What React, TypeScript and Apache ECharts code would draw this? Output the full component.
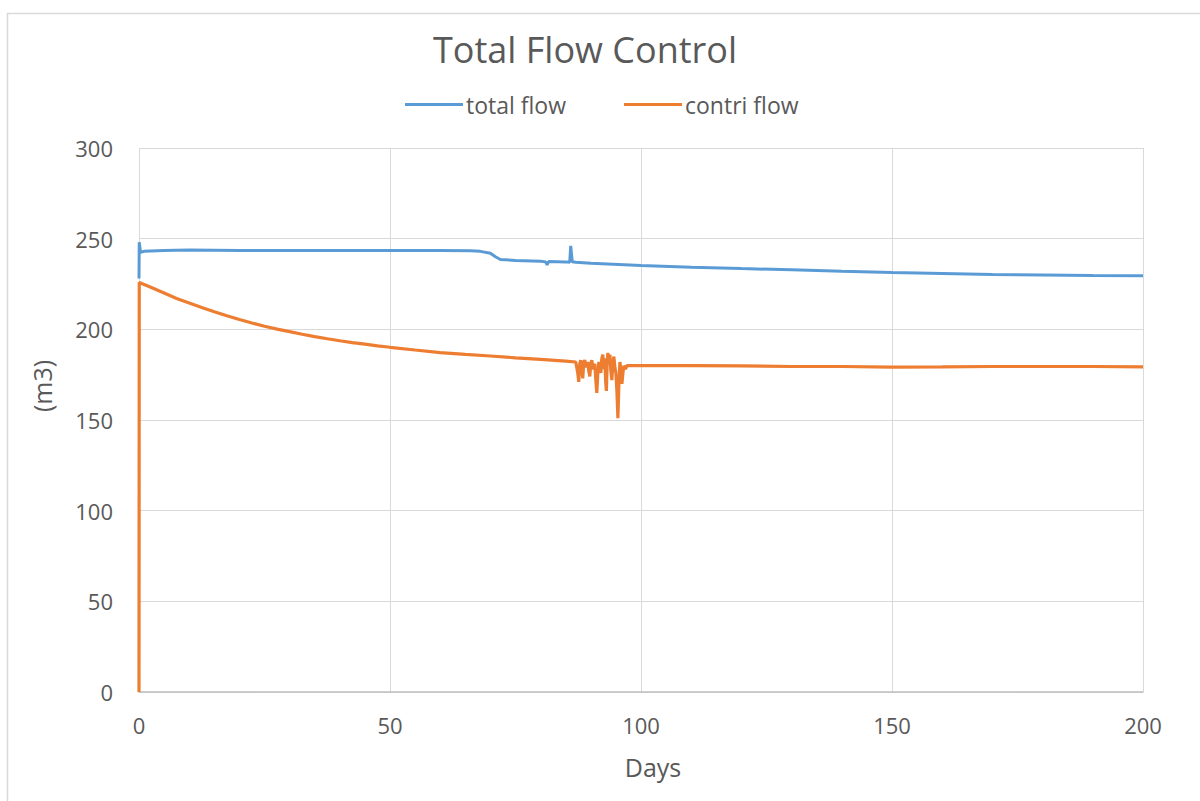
import React, { useEffect, useRef } from "react";
import * as echarts from "echarts";

// [day, m3]
const totalFlow: [number, number][] = [
  [0, 228], [0.05, 248], [0.3, 242.5], [1, 243], [5, 243.5], [10, 243.8], [20, 243.5],
  [40, 243.5], [60, 243.5], [66, 243.4], [68, 243], [70, 242], [71, 240], [72, 238.5],
  [75, 238], [80, 237.5], [81, 237.2], [81.3, 235.5], [81.6, 237.4], [85, 237.2],
  [85.8, 237], [86, 246], [86.3, 237.3], [87, 237], [90, 236.4], [100, 235.2],
  [110, 234.3], [120, 233.5], [130, 232.8], [140, 232], [150, 231.3], [160, 230.8],
  [170, 230.3], [180, 230], [190, 229.7], [200, 229.5],
];

const contriFlow: [number, number][] = [
  [0, 0], [0.05, 225.8], [2, 223.6], [5, 220], [7.5, 217], [10, 214.5], [12.5, 212],
  [15, 209.7], [17.5, 207.5], [20, 205.4], [22.5, 203.5], [25, 201.7], [27.5, 200.1],
  [30, 198.7], [32.5, 197.3], [35, 196], [37.5, 194.8], [40, 193.7], [42.5, 192.7],
  [45, 191.8], [47.5, 190.9], [50, 190.1], [55, 188.6], [60, 187.2], [65, 186.2],
  [70, 185.3], [75, 184.3], [80, 183.4], [85, 182.5], [87, 182],
  [87.4, 176], [87.6, 171], [87.8, 181], [88, 183], [88.2, 178], [88.4, 173],
  [88.6, 182], [88.8, 183], [89.1, 179], [89.4, 182], [89.6, 177], [89.8, 174],
  [90, 181], [90.2, 183], [90.5, 178], [90.8, 181], [91, 172], [91.2, 165],
  [91.4, 176], [91.6, 182], [91.8, 179], [92, 176], [92.2, 184], [92.4, 186],
  [92.6, 178], [92.8, 184], [92.95, 172], [93.1, 166], [93.25, 180], [93.4, 187],
  [93.6, 181], [93.8, 186], [94, 177], [94.2, 172], [94.4, 182], [94.6, 185],
  [94.8, 179], [95, 176], [95.2, 166], [95.4, 151], [95.6, 170], [95.8, 182],
  [96, 177], [96.2, 170], [96.4, 176], [96.6, 180], [96.9, 178], [97.2, 180],
  [100, 180], [110, 180], [120, 179.8], [130, 179.5], [140, 179.5],
  [150, 179.2], [160, 179.3], [170, 179.5], [180, 179.5], [190, 179.5], [200, 179.3],
];

const seriesNames = ["total flow", "contri flow"];
const chartTitle = "Total Flow Control";
const xAxisTitle = "Days";
const yAxisTitle = "(m3)";

const FONT = "'Open Sans', 'Noto Sans', sans-serif";
const GREY_TEXT = "#595959";
const BLUE = "#5B9BD5";
const ORANGE = "#ED7D31";

export default function App() {
  const ref = useRef<HTMLDivElement>(null);

  useEffect(() => {
    document.body.style.margin = "0";
    if (!ref.current) return;
    const chart = echarts.init(ref.current, undefined, { renderer: "svg" });
    chart.setOption({
      animation: false,
      backgroundColor: "#ffffff",
      textStyle: { fontFamily: FONT },
      title: {
        text: chartTitle,
        left: 428,
        top: 26,
        textStyle: { fontFamily: FONT, fontSize: 36, fontWeight: "normal", color: GREY_TEXT },
      },
      legend: {
        top: 88,
        left: 400,
        icon: "rect",
        itemWidth: 58,
        itemHeight: 3,
        itemGap: 58,
        textStyle: { fontFamily: FONT, fontSize: 23, color: GREY_TEXT, padding: [0, 0, 0, -2] },
        data: seriesNames,
      },
      grid: { left: 139, right: 57, top: 148, bottom: 109 },
      xAxis: {
        type: "value",
        min: 0,
        max: 200,
        interval: 50,
        name: xAxisTitle,
        nameLocation: "middle",
        nameGap: 62,
        nameTextStyle: { fontFamily: FONT, fontSize: 25, color: GREY_TEXT, padding: [0, 0, 0, 24] },
        axisLine: { show: true, lineStyle: { color: "#bfbfbf", width: 1.5 } },
        axisTick: { show: false },
        axisLabel: { fontFamily: FONT, fontSize: 22, color: GREY_TEXT, margin: 22 },
        splitLine: { show: true, lineStyle: { color: "#d9d9d9", width: 1 } },
      },
      yAxis: {
        type: "value",
        min: 0,
        max: 300,
        interval: 50,
        axisLine: { show: false },
        axisTick: { show: false },
        axisLabel: { fontFamily: FONT, fontSize: 22, color: GREY_TEXT, margin: 26 },
        splitLine: { show: true, lineStyle: { color: "#d9d9d9", width: 1 } },
      },
      series: [
        {
          name: seriesNames[0],
          type: "line",
          data: totalFlow,
          showSymbol: false,
          symbol: "none",
          lineStyle: { color: BLUE, width: 3 },
          itemStyle: { color: BLUE },
        },
        {
          name: seriesNames[1],
          type: "line",
          data: contriFlow,
          showSymbol: false,
          symbol: "none",
          lineStyle: { color: ORANGE, width: 3.2 },
          itemStyle: { color: ORANGE },
        },
      ],
      graphic: [
        {
          type: "rect",
          silent: true,
          shape: { x: 7.5, y: 13.5, width: 1200, height: 800 },
          style: { fill: "none", stroke: "#d9d9d9", lineWidth: 1.5 },
        },
        {
          type: "text",
          silent: true,
          x: 42,
          y: 386,
          rotation: Math.PI / 2,
          style: {
            text: yAxisTitle,
            fontFamily: FONT,
            fontSize: 25,
            fill: GREY_TEXT,
            align: "center",
            verticalAlign: "middle",
          },
        },
      ],
    });
    return () => chart.dispose();
  }, []);

  return <div ref={ref} style={{ width: 1200, height: 801 }} />;
}
